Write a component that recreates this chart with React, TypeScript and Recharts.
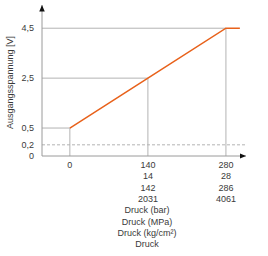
import { Label, Line, LineChart, ReferenceLine, XAxis, YAxis } from "recharts";

// pressure in bar, output voltage in V
const pressureBar = [0, 140, 280, 305];
const outputVolt = [0.5, 2.5, 4.5, 4.5];

const barTicks = [0, 140, 280];
const mpaTicks = ["", "14", "28"];
const kgTicks = ["", "142", "286"];
const psiTicks = ["", "2031", "4061"];
const voltTicks = [0, 0.2, 0.5, 2.5, 4.5];
const unitLabels = ["Druck (bar)", "Druck (MPa)", "Druck (kg/cm²)", "Druck"];

const FONT = "'Liberation Sans', Arial, sans-serif";
const TEXT = "#3a3a3a";
const GRID = "#b3b3b3";
const ORANGE = "#e8611a";
const X_DOMAIN: [number, number] = [-50, 316];
const LINE_GAP = 11.3;

// the diagram is schematic: the range below 0,5 V is stretched
const pos = (v: number) => (v <= 0.5 ? v * 2.24 : 1.12 + (v - 0.5));

const data = pressureBar.map((p, i) => ({ p, y: pos(outputVolt[i]) }));
const marks = data.slice(0, 3);

function PressureTick(props: any) {
  const { x, y, payload } = props;
  const i = barTicks.indexOf(payload.value);
  const rows = [String(payload.value), mpaTicks[i], kgTicks[i], psiTicks[i]].filter(Boolean);
  return (
    <text x={x} y={y + 4} textAnchor="middle" fill={TEXT} fontSize={9} fontFamily={FONT}>
      {rows.map((r, k) => (
        <tspan key={k} x={x} dy={k === 0 ? 0 : LINE_GAP}>
          {r}
        </tspan>
      ))}
    </text>
  );
}

function UnitLabel(props: any) {
  const { x, y, width } = props.viewBox;
  const cx = x + width / 2 + 3;
  return (
    <text x={cx} y={y + 12 + LINE_GAP * 4} textAnchor="middle" fill={TEXT} fontSize={9} fontFamily={FONT}>
      {unitLabels.map((u, k) => (
        <tspan key={k} x={cx} dy={k === 0 ? 0 : LINE_GAP}>
          {u}
        </tspan>
      ))}
    </text>
  );
}

function VoltLabel(props: any) {
  const { y, height } = props.viewBox;
  const cy = y + height / 2 + 2;
  return (
    <text
      x={10}
      y={cy}
      transform={`rotate(-90 10 ${cy})`}
      textAnchor="middle"
      dominantBaseline="central"
      fill={TEXT}
      fontSize={9}
      fontFamily={FONT}
    >
      Ausgangsspannung [V]
    </text>
  );
}

export default function App() {
  return (
    <div style={{ position: "absolute", left: 0, top: 0 }}>
      <LineChart width={268} height={256} data={data} margin={{ top: 5, right: 22, left: 0, bottom: 0 }}>
        <defs>
          <marker
            id="arrowHead"
            viewBox="0 0 10 10"
            refX="10"
            refY="5"
            markerWidth="6.5"
            markerHeight="5.5"
            markerUnits="userSpaceOnUse"
            preserveAspectRatio="none"
            orient="auto-start-reverse"
          >
            <path d="M0,0 L10,5 L0,10 z" fill="#111" />
          </marker>
        </defs>
        <XAxis
          dataKey="p"
          type="number"
          domain={X_DOMAIN}
          allowDataOverflow
          ticks={barTicks}
          interval={0}
          height={100}
          tickLine={false}
          axisLine={{ stroke: "#9a9a9a", markerEnd: "url(#arrowHead)" } as any}
          tick={<PressureTick />}
        >
          <Label content={<UnitLabel />} />
        </XAxis>
        <YAxis
          type="number"
          domain={[0, 6.05]}
          allowDataOverflow
          ticks={voltTicks.map(pos)}
          interval={0}
          width={42}
          tickLine={false}
          axisLine={{ stroke: "#9a9a9a", markerStart: "url(#arrowHead)" } as any}
          tick={{ fill: TEXT, fontSize: 9, fontFamily: FONT }}
          tickFormatter={(t: number) => {
            const v = voltTicks[voltTicks.map(pos).findIndex((q) => Math.abs(q - t) < 1e-6)];
            return String(v).replace(".", ",");
          }}
        >
          <Label content={<VoltLabel />} />
        </YAxis>
        <ReferenceLine y={pos(0.2)} stroke={GRID} strokeDasharray="3 2" ifOverflow="visible" />
        {marks.map((m) => (
          <ReferenceLine
            key={`h${m.p}`}
            segment={[
              { x: X_DOMAIN[0], y: m.y },
              { x: m.p, y: m.y },
            ]}
            stroke={GRID}
            ifOverflow="visible"
          />
        ))}
        {marks.map((m) => (
          <ReferenceLine
            key={`v${m.p}`}
            segment={[
              { x: m.p, y: 0 },
              { x: m.p, y: m.y },
            ]}
            stroke={GRID}
            ifOverflow="visible"
          />
        ))}
        <Line
          dataKey="y"
          type="linear"
          stroke={ORANGE}
          strokeWidth={1.5}
          dot={false}
          isAnimationActive={false}
        />
      </LineChart>
    </div>
  );
}
